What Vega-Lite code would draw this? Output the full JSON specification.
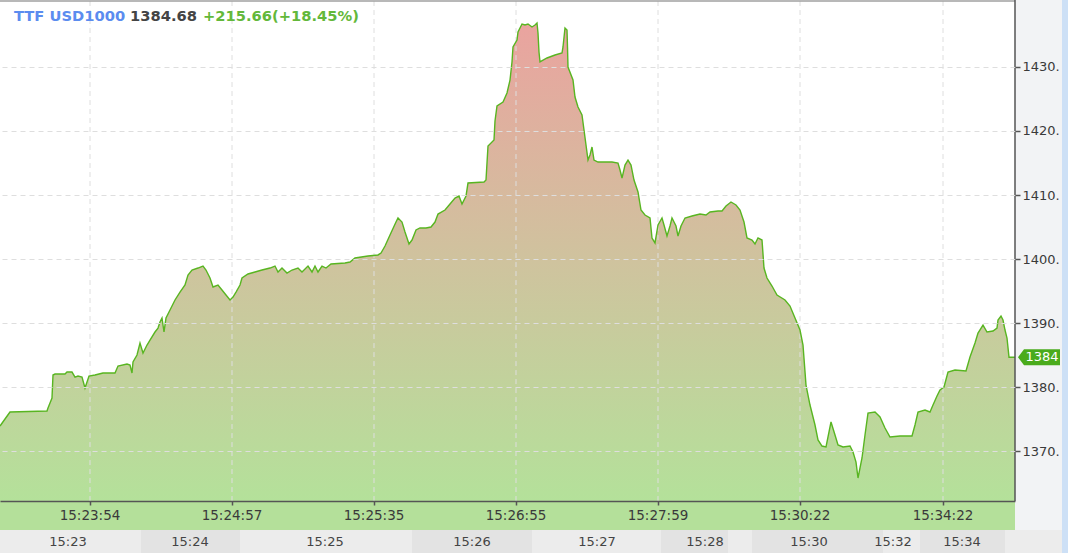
{
  "$schema": "https://vega.github.io/schema/vega-lite/v6.json",
  "width": 1015,
  "height": 553,
  "autosize": "none",
  "padding": {"left": 0, "top": 0, "right": 53, "bottom": 0},
  "background": "#f2f3f5",
  "config": {"view": {"stroke": null, "fill": "#ffffff"}, "font": "DejaVu Sans"},
  "datasets": {
    "series": [
      {"i":0,"v":1373.93},{"i":5,"v":1375.03},{"i":10,"v":1376.12},{"i":47,"v":1376.28},{"i":48,"v":1376.74},
      {"i":50,"v":1377.52},{"i":52,"v":1378.31},{"i":53,"v":1381.9},{"i":55,"v":1382.05},{"i":65,"v":1382.05},
      {"i":67,"v":1382.36},{"i":72,"v":1382.36},{"i":75,"v":1381.58},{"i":78,"v":1381.74},{"i":82,"v":1381.58},
      {"i":85,"v":1379.87},{"i":89,"v":1381.74},{"i":95,"v":1381.9},{"i":103,"v":1382.21},{"i":115,"v":1382.21},
      {"i":118,"v":1383.3},{"i":127,"v":1383.61},{"i":130,"v":1383.46},{"i":132,"v":1382.21},{"i":133,"v":1383.93},
      {"i":137,"v":1385.02},{"i":140,"v":1386.89},{"i":143,"v":1385.33},{"i":147,"v":1386.58},{"i":150,"v":1387.36},
      {"i":155,"v":1388.61},{"i":158,"v":1389.23},{"i":160,"v":1390.17},{"i":162,"v":1390.8},{"i":164,"v":1388.61},
      {"i":166,"v":1390.8},{"i":170,"v":1392.05},{"i":175,"v":1393.61},{"i":180,"v":1394.85},{"i":185,"v":1395.95},
      {"i":188,"v":1397.51},{"i":192,"v":1398.29},{"i":198,"v":1398.6},{"i":203,"v":1398.91},{"i":206,"v":1398.29},
      {"i":210,"v":1397.04},{"i":213,"v":1395.64},{"i":218,"v":1395.95},{"i":222,"v":1395.17},{"i":226,"v":1394.39},
      {"i":230,"v":1393.61},{"i":233,"v":1394.07},{"i":236,"v":1394.85},{"i":240,"v":1395.95},{"i":242,"v":1397.04},
      {"i":248,"v":1397.67},{"i":255,"v":1397.98},{"i":262,"v":1398.29},{"i":270,"v":1398.6},{"i":275,"v":1398.91},
      {"i":278,"v":1397.98},{"i":282,"v":1398.6},{"i":287,"v":1397.82},{"i":292,"v":1398.29},{"i":298,"v":1398.6},
      {"i":302,"v":1397.98},{"i":308,"v":1398.91},{"i":312,"v":1397.98},{"i":315,"v":1398.91},{"i":318,"v":1397.98},
      {"i":322,"v":1398.91},{"i":326,"v":1398.6},{"i":331,"v":1399.23},{"i":345,"v":1399.39},{"i":350,"v":1399.54},
      {"i":355,"v":1400.16},{"i":368,"v":1400.48},{"i":378,"v":1400.64},{"i":381,"v":1400.94},{"i":385,"v":1402.04},
      {"i":390,"v":1403.75},{"i":396,"v":1405.78},{"i":398,"v":1406.41},{"i":402,"v":1405.78},{"i":405,"v":1404.22},
      {"i":409,"v":1402.35},{"i":412,"v":1402.97},{"i":416,"v":1404.54},{"i":420,"v":1404.85},{"i":426,"v":1404.85},
      {"i":431,"v":1405.0},{"i":435,"v":1405.78},{"i":438,"v":1407.03},{"i":445,"v":1407.66},{"i":450,"v":1408.59},
      {"i":455,"v":1409.53},{"i":459,"v":1409.84},{"i":462,"v":1408.59},{"i":466,"v":1409.84},{"i":468,"v":1411.87},
      {"i":484,"v":1412.03},{"i":486,"v":1412.34},{"i":488,"v":1417.65},{"i":494,"v":1418.59},{"i":495,"v":1421.55},
      {"i":497,"v":1423.9},{"i":503,"v":1424.52},{"i":507,"v":1425.93},{"i":510,"v":1427.95},{"i":512,"v":1430.77},
      {"i":513,"v":1433.11},{"i":517,"v":1434.2},{"i":518,"v":1435.45},{"i":522,"v":1436.7},{"i":525,"v":1436.54},
      {"i":528,"v":1436.7},{"i":532,"v":1436.23},{"i":535,"v":1436.54},{"i":537,"v":1436.85},{"i":538,"v":1435.29},
      {"i":539,"v":1432.33},{"i":540,"v":1430.77},{"i":547,"v":1431.39},{"i":555,"v":1431.86},{"i":562,"v":1432.17},
      {"i":563,"v":1433.11},{"i":565,"v":1436.07},{"i":567,"v":1435.76},{"i":567.5,"v":1433.11},{"i":568,"v":1429.98},
      {"i":573,"v":1427.95},{"i":575,"v":1425.3},{"i":578,"v":1423.74},{"i":582,"v":1422.49},{"i":584,"v":1420.15},
      {"i":586,"v":1417.81},{"i":588,"v":1415.46},{"i":590,"v":1416.24},{"i":592,"v":1417.49},{"i":594,"v":1415.46},
      {"i":598,"v":1415.15},{"i":612,"v":1415.15},{"i":618,"v":1414.99},{"i":620,"v":1413.9},{"i":622,"v":1412.65},
      {"i":625,"v":1414.68},{"i":628,"v":1415.46},{"i":631,"v":1414.68},{"i":634,"v":1412.34},{"i":638,"v":1410.47},
      {"i":641,"v":1407.66},{"i":645,"v":1406.88},{"i":650,"v":1406.41},{"i":652,"v":1403.29},{"i":655,"v":1402.51},
      {"i":658,"v":1405.32},{"i":662,"v":1406.41},{"i":664,"v":1405.32},{"i":667,"v":1403.6},{"i":670,"v":1405.16},
      {"i":672,"v":1406.41},{"i":676,"v":1405.16},{"i":678,"v":1403.6},{"i":681,"v":1405.16},{"i":685,"v":1406.41},
      {"i":692,"v":1406.72},{"i":700,"v":1407.03},{"i":706,"v":1406.88},{"i":710,"v":1407.35},{"i":718,"v":1407.5},
      {"i":722,"v":1407.5},{"i":726,"v":1408.28},{"i":731,"v":1408.91},{"i":736,"v":1408.44},{"i":740,"v":1407.66},
      {"i":744,"v":1405.78},{"i":747,"v":1403.29},{"i":752,"v":1402.97},{"i":755,"v":1402.35},{"i":758,"v":1403.29},
      {"i":762,"v":1402.97},{"i":764,"v":1398.6},{"i":767,"v":1397.04},{"i":772,"v":1395.79},{"i":777,"v":1394.39},
      {"i":785,"v":1393.61},{"i":790,"v":1392.67},{"i":795,"v":1390.8},{"i":800,"v":1388.92},{"i":803,"v":1386.58},
      {"i":806,"v":1380.33},{"i":810,"v":1377.21},{"i":815,"v":1374.09},{"i":818,"v":1371.75},{"i":822,"v":1370.81},
      {"i":826,"v":1370.66},{"i":829,"v":1373.0},{"i":831,"v":1374.56},{"i":835,"v":1372.53},{"i":838,"v":1370.97},
      {"i":843,"v":1370.66},{"i":850,"v":1370.81},{"i":853,"v":1369.87},{"i":856,"v":1368.31},{"i":858,"v":1365.82},
      {"i":860,"v":1367.38},{"i":862,"v":1368.94},{"i":865,"v":1372.53},{"i":868,"v":1375.96},{"i":875,"v":1376.12},
      {"i":880,"v":1375.34},{"i":885,"v":1373.62},{"i":890,"v":1372.22},{"i":900,"v":1372.37},{"i":912,"v":1372.37},
      {"i":915,"v":1374.09},{"i":918,"v":1376.12},{"i":925,"v":1376.43},{"i":930,"v":1376.12},{"i":933,"v":1377.21},
      {"i":937,"v":1378.62},{"i":940,"v":1379.55},{"i":944,"v":1380.02},{"i":948,"v":1382.36},{"i":955,"v":1382.68},
      {"i":966,"v":1382.52},{"i":970,"v":1384.71},{"i":975,"v":1386.89},{"i":978,"v":1388.45},{"i":983,"v":1389.7},
      {"i":987,"v":1388.61},{"i":993,"v":1388.77},{"i":997,"v":1389.23},{"i":998,"v":1390.48},{"i":1001,"v":1391.11},
      {"i":1003,"v":1390.48},{"i":1005,"v":1388.92},{"i":1007,"v":1387.67},{"i":1009,"v":1384.68},{"i":1015,"v":1384.68}
    ],
    "ticks": [
      {"i":90,"t":"15:23:54"},{"i":232,"t":"15:24:57"},{"i":374,"t":"15:25:35"},{"i":516,"t":"15:26:55"},
      {"i":658,"t":"15:27:59"},{"i":800,"t":"15:30:22"},{"i":943,"t":"15:34:22"}
    ],
    "minutes": [
      {"m":"15:23","a":0,"b":141,"at":68},
      {"m":"15:24","a":141,"b":240,"at":190},
      {"m":"15:25","a":240,"b":412,"at":325},
      {"m":"15:26","a":412,"b":532,"at":472},
      {"m":"15:27","a":532,"b":661,"at":597},
      {"m":"15:28","a":661,"b":728,"at":705},
      {"m":"","a":728,"b":752,"at":740},
      {"m":"15:30","a":752,"b":883,"at":809},
      {"m":"15:32","a":883,"b":920,"at":893},
      {"m":"15:34","a":920,"b":1005,"at":962},
      {"m":"","a":1005,"b":1062,"at":1033}
    ],
    "header": [
      {"name":"TTF USD1000","last":1384.68,"chg":"+215.66(+18.45%)"}
    ]
  },
  "layer": [
    {
      "data": {"name": "series"},
      "mark": {
        "type": "area",
        "color": {
          "gradient": "linear", "x1": 0, "y1": 0, "x2": 0, "y2": 1,
          "stops": [
            {"offset": 0, "color": "#eaa39f"},
            {"offset": 0.5, "color": "#cfc39e"},
            {"offset": 1, "color": "#b4e19a"}
          ]
        }
      },
      "encoding": {
        "x": {
          "field": "i", "type": "quantitative",
          "scale": {"domain": [0, 1015], "nice": false, "zero": false},
          "axis": {
            "title": null, "values": [90, 232, 374, 516, 658, 800, 943],
            "labels": false, "grid": false, "ticks": true, "tickSize": 4,
            "tickColor": "#555555", "tickWidth": 1.5, "domainColor": "#555555", "domainWidth": 1.5,
            "offset": -52, "zindex": 1
          }
        },
        "y": {
          "field": "v", "type": "quantitative",
          "scale": {"domain": [1354.11, 1440.445], "nice": false, "zero": false},
          "axis": {
            "title": null, "orient": "right", "values": [1370, 1380, 1390, 1400, 1410, 1420, 1430],
            "domain": false, "ticks": true, "tickSize": 5, "tickColor": "#555555", "tickWidth": 1.5,
            "grid": true, "gridDash": [5, 4], "gridColor": "#dedede",
            "labelExpr": "format(datum.value, 'd') + '.'",
            "labelFont": "DejaVu Sans", "labelFontSize": 13, "labelColor": "#3a3a3a", "labelPadding": 2,
            "zindex": 1
          }
        },
        "y2": {"datum": 1362.22}
      }
    },
    {
      "data": {"name": "ticks"},
      "mark": {"type": "rule", "color": "#dedede", "strokeDash": [5, 4], "strokeWidth": 1},
      "encoding": {
        "x": {"field": "i", "type": "quantitative", "title": null},
        "y": {"datum": 1362.22},
        "y2": {"datum": 1440.445}
      }
    },
    {
      "data": {"name": "series"},
      "mark": {"type": "line", "color": "#58b521", "strokeWidth": 1.4},
      "encoding": {
        "x": {"field": "i", "type": "quantitative", "title": null},
        "y": {"field": "v", "type": "quantitative", "title": null}
      }
    },
    {
      "data": {"values": [{}]},
      "mark": {"type": "rect", "color": "#b4e09a"},
      "encoding": {
        "x": {"datum": 0},
        "x2": {"datum": 1015},
        "y": {"datum": 1357.7},
        "y2": {"datum": 1362.22}
      }
    },
    {
      "data": {"name": "minutes"},
      "transform": [
        {"window": [{"op": "row_number", "as": "n"}]},
        {"calculate": "datum.n % 2", "as": "odd"}
      ],
      "mark": {"type": "rect"},
      "encoding": {
        "x": {"field": "a", "type": "quantitative", "title": null},
        "x2": {"field": "b"},
        "y": {"datum": 1354.11},
        "y2": {"datum": 1357.7},
        "color": {"field": "odd", "type": "nominal", "scale": {"domain": [1, 0], "range": ["#ececec", "#e3e3e3"]}, "legend": null}
      }
    },
    {
      "data": {"name": "minutes"},
      "mark": {"type": "text", "font": "DejaVu Sans", "fontSize": 13, "color": "#444444", "baseline": "middle", "align": "center"},
      "encoding": {
        "x": {"field": "at", "type": "quantitative", "title": null},
        "y": {"datum": 1355.9},
        "text": {"field": "m"}
      }
    },
    {
      "data": {"name": "ticks"},
      "mark": {"type": "text", "font": "DejaVu Sans", "fontSize": 13.5, "color": "#3a3a3a", "baseline": "middle", "align": "center"},
      "encoding": {
        "x": {"field": "i", "type": "quantitative", "title": null},
        "y": {"datum": 1359.96},
        "text": {"field": "t"}
      }
    },
    {
      "data": {"values": [{}]},
      "mark": {"type": "rule", "color": "#a0a0a0", "strokeWidth": 1.5},
      "encoding": {"y": {"datum": 1440.3}}
    },
    {
      "data": {"values": [{}]},
      "mark": {"type": "rule", "color": "#555555", "strokeWidth": 1.5},
      "encoding": {
        "x": {"datum": 1015},
        "y": {"datum": 1362.22},
        "y2": {"datum": 1440.445}
      }
    },
    {
      "data": {"values": [{}]},
      "mark": {"type": "rect", "color": "#cde0f6"},
      "encoding": {
        "x": {"datum": 1062},
        "x2": {"datum": 1080}
      }
    },
    {
      "data": {"name": "header"},
      "mark": {
        "type": "point", "filled": true, "opacity": 1, "color": "#4aab1c", "size": 10000, "strokeWidth": 0,
        "shape": "M0,0 L0.12,-0.16 L0.84,-0.16 L0.84,0.16 L0.12,0.16 Z"
      },
      "encoding": {
        "x": {"datum": 1018},
        "y": {"field": "last", "type": "quantitative", "title": null}
      }
    },
    {
      "data": {"name": "header"},
      "transform": [{"calculate": "floor(datum.last)", "as": "tag"}],
      "mark": {"type": "text", "font": "DejaVu Sans", "fontSize": 13, "color": "#ffffff", "align": "center", "baseline": "middle", "dx": 24},
      "encoding": {
        "x": {"datum": 1018},
        "y": {"field": "last", "type": "quantitative", "title": null},
        "text": {"field": "tag"}
      }
    },
    {
      "data": {"name": "header"},
      "mark": {"type": "text", "font": "DejaVu Sans", "fontWeight": "bold", "fontSize": 14.7, "color": "#5b8cef", "align": "left", "baseline": "alphabetic", "dx": 14, "dy": 21},
      "encoding": {
        "x": {"datum": 0},
        "y": {"datum": 1440.445},
        "text": {"field": "name"}
      }
    },
    {
      "data": {"name": "header"},
      "mark": {"type": "text", "font": "DejaVu Sans", "fontWeight": "bold", "fontSize": 14.7, "color": "#444444", "align": "left", "baseline": "alphabetic", "dx": 130, "dy": 21},
      "encoding": {
        "x": {"datum": 0},
        "y": {"datum": 1440.445},
        "text": {"field": "last", "format": ".2f"}
      }
    },
    {
      "data": {"name": "header"},
      "mark": {"type": "text", "font": "DejaVu Sans", "fontWeight": "bold", "fontSize": 14.7, "color": "#63b83a", "align": "left", "baseline": "alphabetic", "dx": 203, "dy": 21},
      "encoding": {
        "x": {"datum": 0},
        "y": {"datum": 1440.445},
        "text": {"field": "chg"}
      }
    }
  ]
}
